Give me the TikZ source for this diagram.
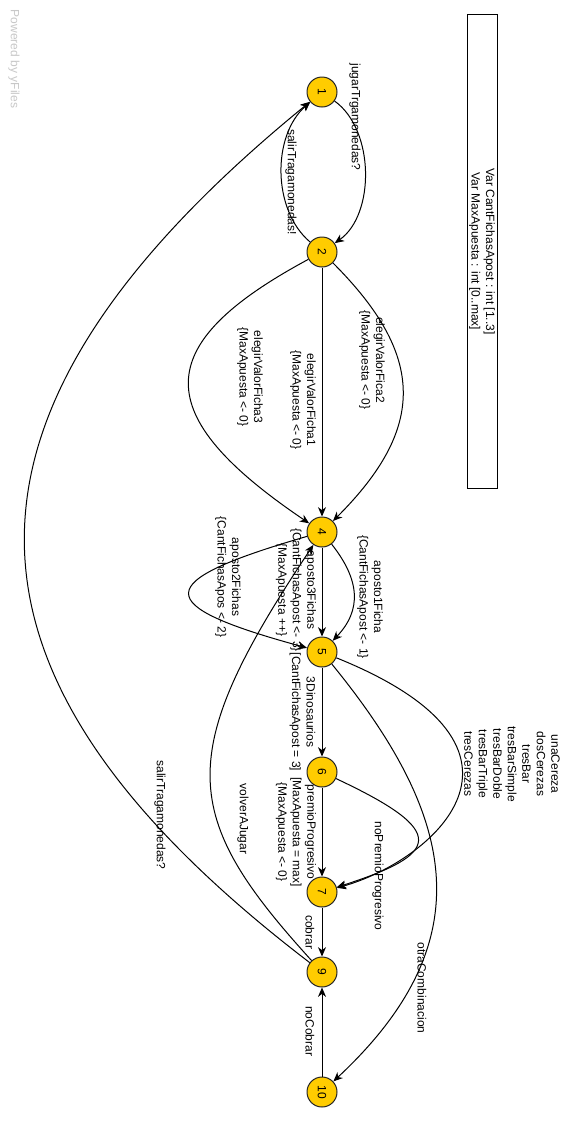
\documentclass[tikz,border=0pt]{standalone}
\usepackage{fontspec}
\setmainfont{Liberation Sans}
\usetikzlibrary{arrows.meta}
\definecolor{nodey}{HTML}{FFCC00}
\definecolor{wm}{HTML}{C8C8C8}
\begin{document}
\begin{tikzpicture}[x=0.75pt,y=-0.75pt,
  st/.style={circle,draw=black!85,fill=nodey,line width=0.75pt,minimum size=22.5pt,inner sep=0pt,font=\fontsize{9}{10.9}\selectfont,rotate=-90},
  lbl/.style={rotate=-90,align=center,font=\fontsize{9}{10.9}\selectfont,inner sep=0pt},
  arr/.style={draw=black,line width=0.75pt,-{Stealth[length=7pt,width=6pt,inset=2.2pt]}},
]
\useasboundingbox (0,0) rectangle (581,1122);
\fill[white] (0,0) rectangle (581,1122);

% watermark
\node[lbl,text=wm] (wm) at (14,59) {Powered by yFiles};

% info box
\node[draw=black,line width=0.75pt,minimum width=355pt,minimum height=22.5pt,inner sep=0pt,rotate=-90,align=center,font=\fontsize{9}{10.9}\selectfont] (info) at (482,251.5) {Var CantFichasApost : int [1..3]\\Var MaxApuesta : int [0..max]};

% states
\node[st] (n1) at (322,92) {1};
\node[st] (n2) at (322,252) {2};
\node[st] (n4) at (322,532) {4};
\node[st] (n5) at (322,652) {5};
\node[st] (n6) at (322,772) {6};
\node[st] (n7) at (322,892) {7};
\node[st] (n9) at (322,972) {9};
\node[st] (n10) at (322,1092) {10};

% edges
\draw[arr] (n1) .. controls (375,130) and (375,215) .. (n2);
\draw[arr] (n2) .. controls (272,210) and (272,135) .. (n1);
\draw[arr] (n2) -- (n4);
\draw[arr] (n2) .. controls (426,356) and (426,428) .. (n4);
\draw[arr] (n2) .. controls (149,345) and (149,415) .. (n4);
\draw[arr] (n4) -- (n5);
\draw[arr] (n4) .. controls (360,580) and (362,610) .. (n5);
\draw[arr] (n4) .. controls (150,582) and (150,605) .. (n5);
\draw[arr] (n5) -- (n6);
\draw[arr] (n6) -- (n7);
\draw[arr] (n5) .. controls (565,750) and (430,862) .. (n7);
\draw[arr] (n6) .. controls (450,832) and (440,854) .. (n7);
\draw[arr] (n5) .. controls (455,815) and (485,940) .. (n10);
\draw[arr] (n7) -- (n9);
\draw[arr] (n10) -- (n9);
\draw[arr] (n9) .. controls (180,816) and (173,755) .. (n4);
\draw[arr] (n9) .. controls (-60,680) and (-80,420) .. (n1);

% labels
\node[lbl] (l12) at (355,117) {jugarTrgamonedas?};
\node[lbl] (l21) at (291,182) {salirTragamonedas!};
\node[lbl] (l24a) at (303,400) {elegirValorFicha1\\\{MaxApuesta <- 0\}};
\node[lbl] (l24b) at (372,360) {elegirValorFica2\\\{MaxApuesta <- 0\}};
\node[lbl] (l24c) at (250,377) {elegirValorFicha3\\\{MaxApuesta <- 0\}};
\node[lbl] (l45a) at (296,590) {aposto3Fichas\\\{CantFichasApost <- 3\}\\\{MaxApuesta ++\}};
\node[lbl] (l45b) at (370,597) {aposto1Ficha\\\{CantFichasApost <- 1\}};
\node[lbl] (l45c) at (228,577) {aposto2Fichas\\\{CantFichasApos <- 2\}};
\node[lbl] (l56) at (302.5,712) {3Dinosaurios\\{[}CantFichasApost = 3{]}};
\node[lbl] (l67) at (296,832) {premioProgresivo\\{[}MaxApuesta = max{]}\\\{MaxApuesta <- 0\}};
\node[lbl] (l57) at (512,764) {unaCereza\\dosCerezas\\tresBar\\tresBarSimple\\tresBarDoble\\tresBarTriple\\tresCerezas};
\node[lbl] (l67b) at (378,876) {noPremioProgresivo};
\node[lbl] (l510) at (422,988) {otraCombinacion};
\node[lbl] (l79) at (310,932) {cobrar};
\node[lbl] (l109) at (310,1031) {noCobrar};
\node[lbl] (l94) at (243,819) {volverAJugar};
\node[lbl] (l91) at (160,815) {salirTragamonedas?};
\end{tikzpicture}
\end{document}
